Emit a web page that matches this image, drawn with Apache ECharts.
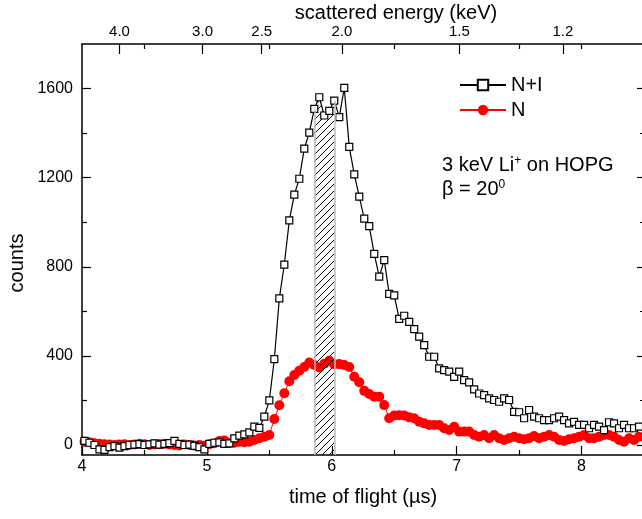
<!DOCTYPE html>
<html><head><meta charset="utf-8">
<script src="https://cdn.jsdelivr.net/npm/echarts@6/dist/echarts.min.js"></script>
<style>html,body{margin:0;padding:0;background:#fff}#c{width:642px;height:519px}</style>
</head><body><div id="c"></div>
<script>
// time-of-flight channels (µs)
const tof = [4.02,4.06,4.10,4.14,4.18,4.22,4.26,4.30,4.34,4.38,4.42,4.46,4.50,4.54,4.58,4.62,4.66,4.70,4.74,4.78,
4.82,4.86,4.90,4.94,4.98,5.02,5.06,5.10,5.14,5.18,5.22,5.26,5.30,5.34,5.38,5.42,5.46,5.50,5.54,5.58,
5.62,5.66,5.70,5.74,5.78,5.82,5.86,5.90,5.94,5.98,6.02,6.06,6.10,6.14,6.18,6.22,6.26,6.30,6.34,6.38,
6.42,6.46,6.50,6.54,6.58,6.62,6.66,6.70,6.74,6.78,6.82,6.86,6.90,6.94,6.98,7.02,7.06,7.10,7.14,7.18,
7.22,7.26,7.30,7.34,7.38,7.42,7.46,7.50,7.54,7.58,7.62,7.66,7.70,7.74,7.78,7.82,7.86,7.90,7.94,7.98,
8.02,8.06,8.10,8.14,8.18,8.22,8.26,8.30,8.34,8.38,8.42,8.46];
// N+I counts (open squares)
const countsNI = [18,10,0,-20,-22,-10,-5,-12,-5,0,
2,4,0,3,7,2,5,8,18,5,
0,2,-4,-10,-20,5,10,12,5,7,
30,42,48,57,82,77,127,200,385,658,
810,1008,1124,1195,1330,1402,1509,1561,1479,1500,
1546,1472,1603,1338,1215,1115,1016,982,858,756,
830,678,672,566,580,553,520,486,448,396,
396,344,336,329,306,329,291,281,250,231,
224,209,202,194,209,202,149,147,120,157,
127,120,112,112,120,127,112,97,104,90,
90,75,90,82,67,102,97,75,90,75,
75,82];
// N counts (red circles)
const countsN = [15,12,8,5,3,2,0,2,3,0,
2,5,3,0,2,3,5,2,0,-2,
2,0,-2,0,-3,3,8,18,20,8,
10,15,12,15,22,30,37,45,117,178,
232,286,314,333,350,370,359,348,365,378,
362,363,359,350,306,282,243,229,217,217,
179,120,132,134,132,124,120,104,97,90,
90,90,75,67,82,60,60,60,45,37,
45,30,45,30,22,30,37,30,26,30,
40,30,37,45,37,22,18,26,30,37,
45,30,30,37,45,45,37,22,15,30,
22,37];
// axis ticks
const tofTicks = [4,5,6,7,8];
const tofMinorTicks = [4.5,5.5,6.5,7.5];
const countTicks = [0,400,800,1200,1600];
const countMinorTicks = [200,600,1000,1400];
const energyTicks = [4.0,3.0,2.5,2.0,1.5,1.2];   // keV, top axis
const topMinorTicks = [4.5,5.5,6.5,7.5,8.0];
const tofConst = 8.6;                              // t = tofConst / sqrt(E)
const hatchBand = [5.86, 6.02];

const energyToTof = e => tofConst / Math.sqrt(e);
const energyTickPos = energyTicks.map(energyToTof);

const FONT = 'Liberation Sans, Arial, Helvetica, sans-serif';
const X0 = 4, X1 = 8.5, Y0 = -45, Y1 = 1800;

const dataNI = tof.map((t,i)=>[t,countsNI[i]]);
const dataN = tof.map((t,i)=>[t,countsN[i]]);
const hatchData = dataNI.filter(d => d[0] >= hatchBand[0]-1e-9 && d[0] <= hatchBand[1]+1e-9);

// hatch pattern
const pc = document.createElement('canvas'); pc.width = 7; pc.height = 7;
const g = pc.getContext('2d'); g.strokeStyle = '#000'; g.lineWidth = 1;
g.beginPath(); g.moveTo(0,7); g.lineTo(7,0); g.moveTo(-1,1); g.lineTo(1,-1); g.moveTo(6,8); g.lineTo(8,6); g.stroke();

const axisLineStyle = {show:true, lineStyle:{color:'#000', width:1.5}};
function xAx(pos, ticks, len, labels, showLine, labelFmt){
  return {type:'value', position:pos, min:X0, max:X1,
    axisLine: showLine ? Object.assign({onZero:false}, axisLineStyle) : {show:false, onZero:false},
    axisTick:{show:true, inside:true, length:len, customValues:ticks, lineStyle:{color:'#000', width:1.2}},
    axisLabel: labels ? {show:true, customValues:labels.values, formatter:labelFmt, fontSize:labels.size, color:'#000', fontFamily:FONT, margin:labels.margin} : {show:false},
    splitLine:{show:false}};
}
function yAx(pos, ticks, len, labels, showLine){
  return {type:'value', position:pos, min:Y0, max:Y1,
    axisLine: showLine ? Object.assign({onZero:false}, axisLineStyle) : {show:false, onZero:false},
    axisTick:{show:true, inside:true, length:len, customValues:ticks, lineStyle:{color:'#000', width:1.2}},
    axisLabel: labels ? {show:true, customValues:labels, formatter:v=>String(v), fontSize:16, color:'#000', fontFamily:FONT, margin:9} : {show:false},
    splitLine:{show:false}};
}

const chart = echarts.init(document.getElementById('c'), null, {renderer:'canvas'});
const y46 = hatchData[0][1], yLast = hatchData[hatchData.length-1][1];
chart.setOption({
  animation:false,
  backgroundColor:'#fff',
  grid:{left:82, top:44, width:562, height:411, containLabel:false, outerBoundsMode:'none'},
  xAxis:[
    xAx('bottom', tofTicks, 9, {values:tofTicks, size:16, margin:4}, true, v=>String(v)),
    xAx('bottom', tofMinorTicks, 5, null, false),
    xAx('top', energyTickPos, 10, {values:energyTickPos, size:15, margin:5}, true,
        v => { const e = tofConst*tofConst/(v*v); return e.toFixed(1); }),
    xAx('top', topMinorTicks, 5, null, false)
  ],
  yAxis:[
    yAx('left', countTicks, 9, countTicks, true),
    yAx('left', countMinorTicks, 5, null, false),
    yAx('right', countTicks, 7, null, true),
    yAx('right', countMinorTicks, 4, null, false)
  ],
  legend:{data:['N+I','N'], orient:'vertical', left:459, top:75, padding:0, itemWidth:46, itemHeight:13, itemGap:5,
    textStyle:{fontSize:20, color:'#000', fontFamily:FONT, lineHeight:20}},
  series:[
    {name:'N', type:'line', xAxisIndex:0, yAxisIndex:0, data:dataN, z:2,
      symbol:'circle', symbolSize:10, showAllSymbol:true,
      itemStyle:{color:'#ff0000'}, lineStyle:{color:'#ff0000', width:1}},
    {name:'hatch', type:'line', xAxisIndex:0, yAxisIndex:0, data:hatchData, z:3,
      symbol:'none', lineStyle:{width:0, opacity:0},
      areaStyle:{color:{image:pc, repeat:'repeat'}, opacity:1, origin:'start'},
      markLine:{silent:true, symbol:'none', label:{show:false},
        lineStyle:{color:'#bbb', width:1.5, type:'solid'},
        data:[[{coord:[hatchBand[0],Y0]},{coord:[hatchBand[0],y46]}],
              [{coord:[hatchBand[1],Y0]},{coord:[hatchBand[1],yLast]}]]}},
    {name:'N+I', type:'line', xAxisIndex:0, yAxisIndex:0, data:dataNI, z:4,
      symbol:'rect', symbolSize:7, showAllSymbol:true,
      itemStyle:{color:'#fff', borderColor:'#000', borderWidth:1.2},
      lineStyle:{color:'#000', width:1.2}}
  ],
  graphic:[
    {type:'text', x:396, y:13, style:{text:'scattered energy (keV)', fontSize:20, fontFamily:FONT, fill:'#000', align:'center', verticalAlign:'middle'}},
    {type:'text', x:363, y:497, style:{text:'time of flight (µs)', fontSize:20, fontFamily:FONT, fill:'#000', align:'center', verticalAlign:'middle'}},
    {type:'text', x:17, y:263, rotation:Math.PI/2, style:{text:'counts', fontSize:20, fontFamily:FONT, fill:'#000', align:'center', verticalAlign:'middle'}},
    {type:'text', x:442, y:165, style:{text:'3 keV Li{sup|+} on HOPG', fontSize:20, fontFamily:FONT, fill:'#000', align:'left', verticalAlign:'middle',
       rich:{sup:{fontSize:12, fontFamily:FONT, fill:'#000', verticalAlign:'top', lineHeight:8}}}},
    {type:'text', x:442, y:189, style:{text:'β = 20{sup|0}', fontSize:20, fontFamily:FONT, fill:'#000', align:'left', verticalAlign:'middle',
       rich:{sup:{fontSize:12, fontFamily:FONT, fill:'#000', verticalAlign:'top', lineHeight:8}}}}
  ]
});
</script></body></html>
